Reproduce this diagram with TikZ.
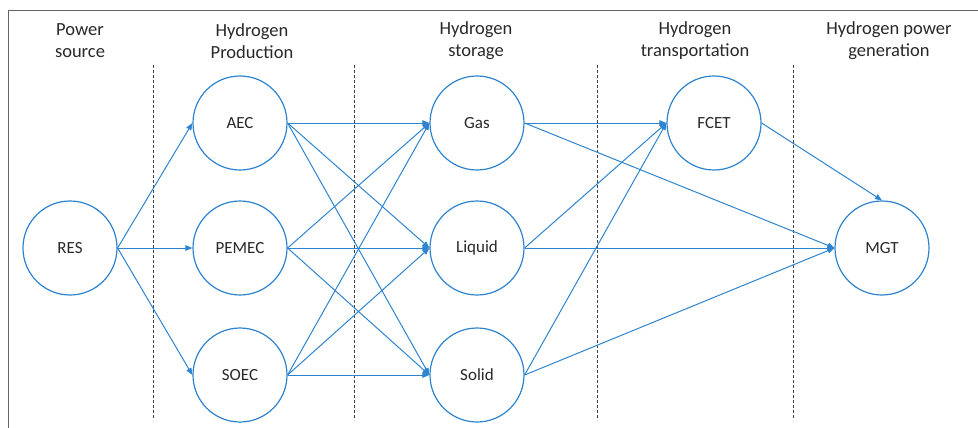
\documentclass[tikz,border=0pt]{standalone}
\usepackage{fontspec}
\setmainfont{Carlito}
\usetikzlibrary{arrows.meta}
\definecolor{lineblue}{RGB}{46,132,208}
\definecolor{txtgray}{RGB}{40,40,40}
\begin{document}
\begin{tikzpicture}[x=1pt,y=-1pt,
  stage/.style={circle,draw=lineblue,line width=1.2pt,minimum size=94pt,inner sep=0pt,
    text=txtgray,font=\fontsize{17}{20}\selectfont},
  head/.style={align=center,text=txtgray,font=\fontsize{18.5}{22}\selectfont,inner sep=0pt},
  flow/.style={draw=lineblue,line width=1pt,-{Triangle[length=7pt,width=5.5pt]}},
  divider/.style={draw=black!75,line width=1pt,dash pattern=on 3pt off 2pt}]
\useasboundingbox (0,0) rectangle (978,428);
% frame
\draw[black!60,line width=1pt] (8,428) -- (8,11) -- (978,11);
% headings
\node[head] (h1) at (80,41) {Power\\source};
\node[head] (h2) at (252,41) {Hydrogen\\Production};
\node[head] (h3) at (476,41) {Hydrogen\\storage};
\node[head] (h4) at (695,41) {Hydrogen\\transportation};
\node[head] (h5) at (889,41) {Hydrogen power\\generation};
% dividers
\coordinate (d1t) at (153,65); \coordinate (d1b) at (153,420);
\coordinate (d2t) at (354,65); \coordinate (d2b) at (354,420);
\coordinate (d3t) at (597,65); \coordinate (d3b) at (597,420);
\coordinate (d4t) at (793,65); \coordinate (d4b) at (793,420);
\draw[divider] (d1t) -- (d1b);
\draw[divider] (d2t) -- (d2b);
\draw[divider] (d3t) -- (d3b);
\draw[divider] (d4t) -- (d4b);
% nodes
\node[stage] (res) at (70,248) {RES};
\node[stage] (aec) at (240,123) {AEC};
\node[stage] (pem) at (240,248) {PEMEC};
\node[stage] (soe) at (240,375) {SOEC};
\node[stage] (gas) at (477,123) {Gas};
\node[stage] (liq) at (477,248) {Liquid};
\node[stage] (sol) at (477,375) {Solid};
\node[stage] (fce) at (714,123) {FCET};
\node[stage] (mgt) at (882,248) {MGT};
% flows
\foreach \t in {aec,pem,soe} \draw[flow] (res.east) -- (\t.west);
\foreach \s in {aec,pem,soe}
  \foreach \t in {gas,liq,sol}
    \draw[flow] (\s.east) -- (\t.west);
\foreach \s in {gas,liq,sol} \draw[flow] (\s.east) -- (fce.west);
\foreach \s in {gas,liq,sol} \draw[flow] (\s.east) -- (mgt.west);
\draw[flow] (fce.east) -- (mgt.north);
\end{tikzpicture}
\end{document}
